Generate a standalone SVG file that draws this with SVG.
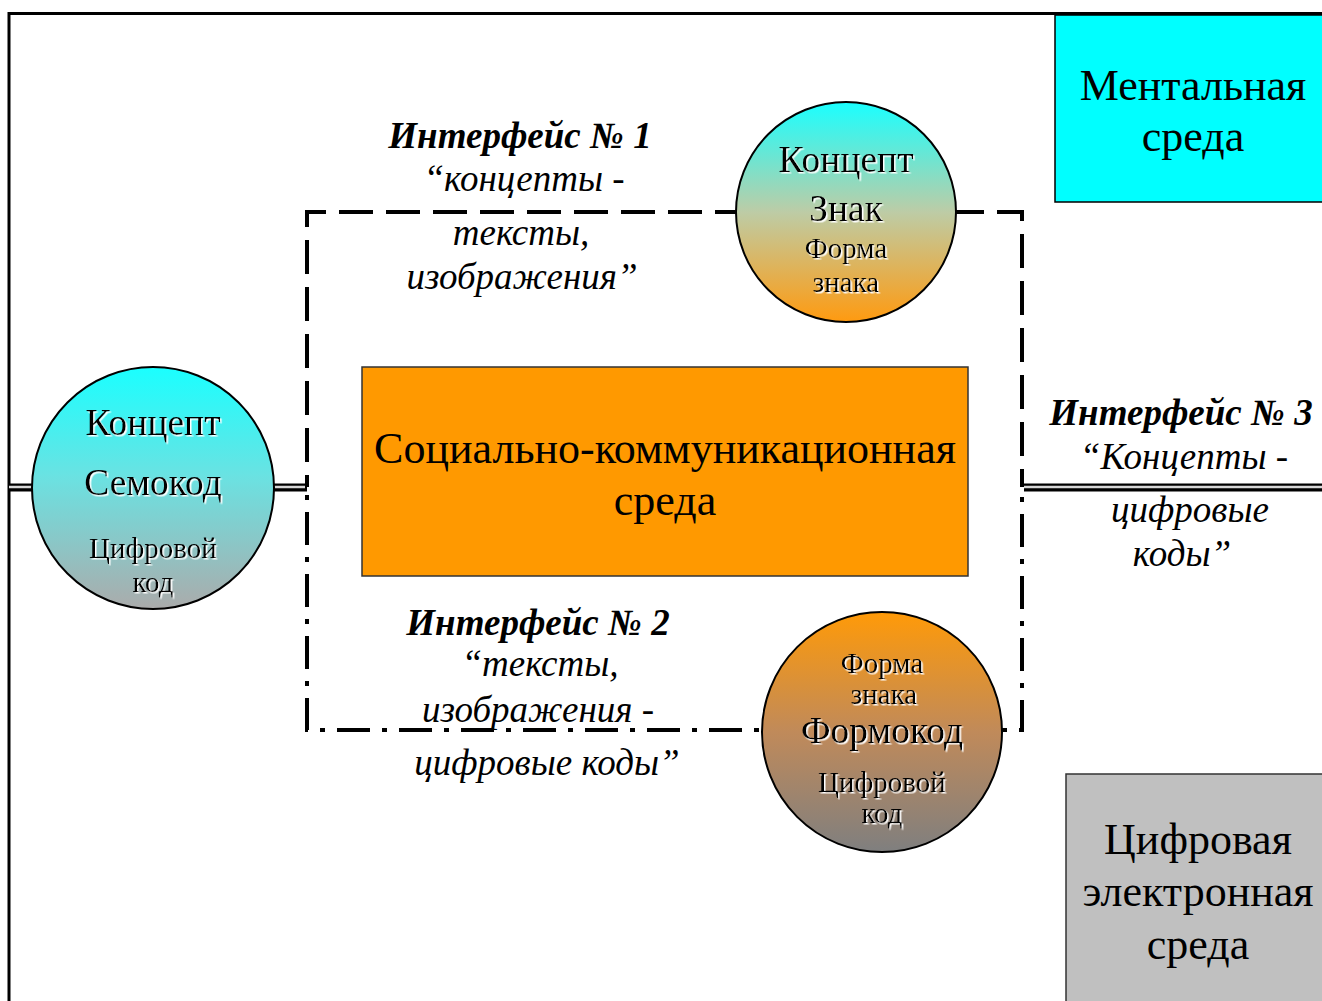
<svg xmlns="http://www.w3.org/2000/svg" width="1322" height="1001" viewBox="0 0 1322 1001">
<defs>
<linearGradient id="gTop" x1="0" y1="0" x2="0" y2="1">
<stop offset="0" stop-color="#1AFFFF"/>
<stop offset="0.5" stop-color="#BDCCA6"/>
<stop offset="1" stop-color="#FF9A10"/>
</linearGradient>
<linearGradient id="gLeft" x1="0" y1="0" x2="0" y2="1">
<stop offset="0" stop-color="#1AFFFF"/>
<stop offset="0.45" stop-color="#6AE2E2"/>
<stop offset="1" stop-color="#ABABAB"/>
</linearGradient>
<linearGradient id="gBot" x1="0" y1="0" x2="0" y2="1">
<stop offset="0" stop-color="#FF9A08"/>
<stop offset="0.5" stop-color="#C08A5A"/>
<stop offset="1" stop-color="#7F7F7F"/>
</linearGradient>
<filter id="emb" x="-10%" y="-10%" width="120%" height="130%">
<feDropShadow dx="1.5" dy="1.5" stdDeviation="0" flood-color="#ffffff" flood-opacity="1"/>
</filter>
</defs>
<style>
.serif{font-family:"Liberation Serif","Times New Roman",serif;fill:#000;text-anchor:middle}
.big{font-size:44px}
.lab{font-size:37px;font-style:italic}
.labb{font-size:37px;font-style:italic;font-weight:bold}
.c1{font-size:37.5px}
.c2{font-size:29px}
.circ{stroke:#000;stroke-width:2}
.dbl1{stroke:#000;stroke-width:8;fill:none}
.dbl2{stroke:#d8d8d8;stroke-width:2.5;fill:none}
.dash{stroke:#000;stroke-width:4;fill:none;stroke-dasharray:34 13}
.dashdot{stroke:#000;stroke-width:4;fill:none;stroke-dasharray:33 12 5 12}
</style>
<rect x="0" y="0" width="1322" height="1001" fill="#fff"/>
<path d="M9,1001 V13.5 H1322" fill="none" stroke="#000" stroke-width="3"/>

<g id="mental">
<rect x="1055" y="15" width="280" height="187" fill="#00FFFF" stroke="#000" stroke-width="1.5"/>
<text class="serif big" x="1193" y="100">Ментальная</text>
<text class="serif big" x="1193" y="151">среда</text>
</g>
<g id="digital">
<rect x="1066" y="774" width="280" height="240" fill="#C0C0C0" stroke="#333" stroke-width="1.5"/>
<text class="serif big" x="1198" y="854">Цифровая</text>
<text class="serif big" x="1198" y="906">электронная</text>
<text class="serif big" x="1198" y="959">среда</text>
</g>
<g id="social">
<rect x="362" y="367" width="606" height="209" fill="#FF9900" stroke="#333" stroke-width="1.5"/>
<text class="serif big" x="665" y="463">Социально-коммуникационная</text>
<text class="serif big" x="665" y="515">среда</text>
</g>

<g id="connectors">
<path class="dash" d="M307,487 V212 H1022 V487" stroke-dashoffset="22"/>
<path class="dashdot" d="M307,487 V730 H1022 V487" stroke-dashoffset="-25"/>
<path class="dbl1" d="M9,487.5 H34"/><path class="dbl2" d="M9,487 H34"/>
<path class="dbl1" d="M273,487.5 H307"/><path class="dbl2" d="M273,487 H305"/>
<path class="dbl1" d="M1024,487.5 H1322"/><path class="dbl2" d="M1024,487 H1322"/>
</g>

<g id="iface1">
<text class="serif labb" x="520" y="148">Интерфейс № 1</text>
<text class="serif lab" x="524" y="191">“концепты -</text>
<text class="serif lab" x="521" y="245">тексты,</text>
<text class="serif lab" x="522" y="289">изображения”</text>
</g>
<g id="iface2">
<text class="serif labb" x="538" y="635">Интерфейс № 2</text>
<text class="serif lab" x="540" y="676">“тексты,</text>
<text class="serif lab" x="538" y="722">изображения -</text>
<text class="serif lab" x="547" y="775">цифровые коды”</text>
</g>
<g id="iface3">
<text class="serif labb" x="1181" y="425">Интерфейс № 3</text>
<text class="serif lab" x="1184" y="469">“Концепты -</text>
<text class="serif lab" x="1190" y="522">цифровые</text>
<text class="serif lab" x="1182" y="566">коды”</text>
</g>

<g id="circleTop">
<circle class="circ" cx="846" cy="212" r="110" fill="url(#gTop)"/>
<g filter="url(#emb)">
<text class="serif c1" x="846" y="172">Концепт</text>
<text class="serif c1" x="846" y="221">Знак</text>
<text class="serif c2" x="846" y="258">Форма</text>
<text class="serif c2" x="846" y="292">знака</text>
</g>
</g>
<g id="circleLeft">
<circle class="circ" cx="153" cy="488" r="121" fill="url(#gLeft)"/>
<g filter="url(#emb)">
<text class="serif c1" x="153" y="435">Концепт</text>
<text class="serif c1" x="153" y="495">Семокод</text>
<text class="serif c2" x="153" y="558">Цифровой</text>
<text class="serif c2" x="153" y="592">код</text>
</g>
</g>
<g id="circleBottom">
<circle class="circ" cx="882" cy="732" r="120" fill="url(#gBot)"/>
<g filter="url(#emb)">
<text class="serif c2" x="882" y="673">Форма</text>
<text class="serif c2" x="884" y="704">знака</text>
<text class="serif c1" x="882" y="743">Формокод</text>
<text class="serif c2" x="882" y="792">Цифровой</text>
<text class="serif c2" x="882" y="823">код</text>
</g>
</g>
</svg>
